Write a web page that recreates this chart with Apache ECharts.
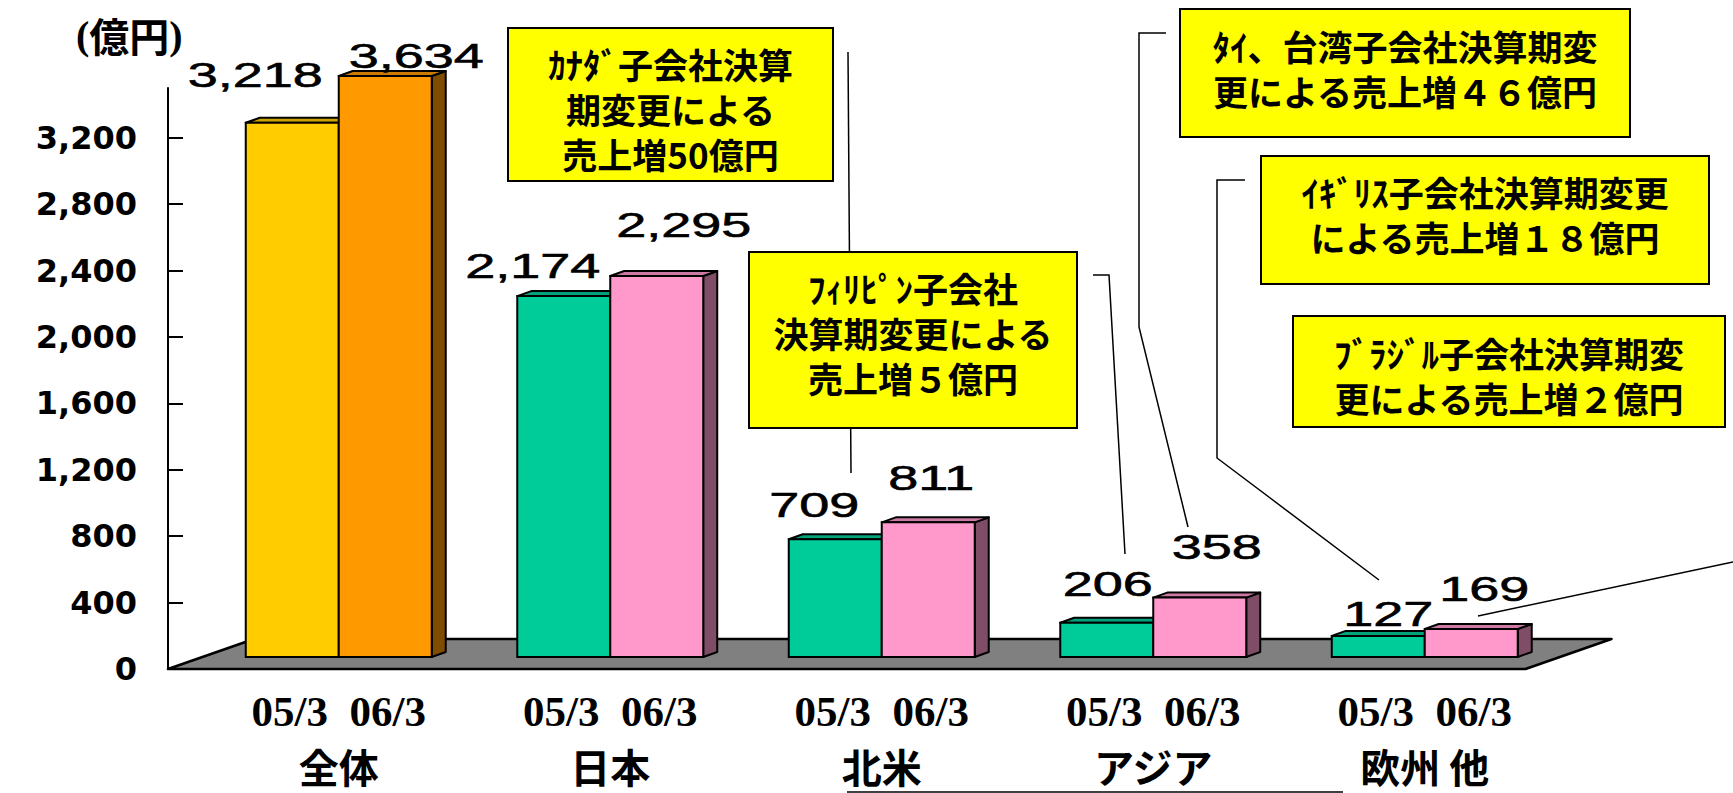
<!DOCTYPE html>
<html>
<head>
<meta charset="utf-8">
<script src="https://cdn.jsdelivr.net/npm/echarts@6/dist/echarts.min.js"></script>
<style>
html,body{margin:0;padding:0;background:#fff;}
#chart{width:1733px;height:793px;}
</style>
</head>
<body>
<div id="chart"></div>
<script>
// ---- data ----
const categories = ['全体', '日本', '北米', 'アジア', '欧州 他'];
const periods = ['05/3', '06/3'];
const sales0503 = [3218, 2174, 709, 206, 127];
const sales0603 = [3634, 2295, 811, 358, 169];
const yTicks = [0, 400, 800, 1200, 1600, 2000, 2400, 2800, 3200];
const yMax = 3500;
const unitLabel = ['(', '億円', ')'];
const notes = [
  'ｶﾅﾀﾞ子会社決算\n期変更による\n売上増50億円',
  'ﾌｨﾘﾋﾟﾝ子会社\n決算期変更による\n売上増５億円',
  'ﾀｲ、台湾子会社決算期変\n更による売上増４６億円',
  'ｲｷﾞﾘｽ子会社決算期変更\nによる売上増１８億円',
  'ﾌﾞﾗｼﾞﾙ子会社決算期変\n更による売上増２億円'
];

// ---- styles / layout ----
const front = [
  ['#FFCC00', '#00CC99', '#00CC99', '#00CC99', '#00CC99'],
  ['#FF9900', '#FF99CC', '#FF99CC', '#FF99CC', '#FF99CC']
];
const topC = [
  ['#CCA300', '#00A37A', '#00A37A', '#00A37A', '#00A37A'],
  ['#CC7A00', '#CC7AA3', '#CC7AA3', '#CC7AA3', '#CC7AA3']
];
const sideC = [
  ['#806600', '#00664D', '#00664D', '#00664D', '#00664D'],
  ['#7F4C00', '#804D66', '#804D66', '#804D66', '#804D66']
];
const FRONT_DX = 35, FRONT_DY = -12;   // bar front plane vs axis plane
const DEP_X = 14, DEP_Y = -5;          // bar depth
const FLOOR_DX = 86, FLOOR_DY = -30;   // floor depth
const BAR_FRAC = 0.3425;
// label placement nudges [dx from bar centre, gap above bar top]
const labelNudge = [
  [[-37, 35], [-31, 18], [-21, 22], [1, 26], [10, 9]],
  [[31, 8], [27, 39], [3, 32], [17, 38], [13, 27]]
];

function fmt(v) { return v.toLocaleString('en-US'); }

function barRenderer(s) {
  return function (params, api) {
    const i = api.value(0), v = api.value(1);
    const band = api.size([1, 0])[0];
    const c = api.coord([i, Math.min(v, yMax)]);
    const b = api.coord([i, 0]);
    const w = band * BAR_FRAC;
    const cx = c[0] + FRONT_DX;
    const x0 = s === 0 ? cx - w : cx;
    const x1 = x0 + w;
    const yT = c[1] + FRONT_DY;
    const yB = b[1] + FRONT_DY;
    const stroke = '#000';
    const nd = labelNudge[s][i];
    const children = [
      { type: 'polygon', shape: { points: [[x1, yB], [x1 + DEP_X, yB + DEP_Y], [x1 + DEP_X, yT + DEP_Y], [x1, yT]] },
        style: { fill: sideC[s][i], stroke, lineWidth: 2, lineJoin: 'round' } },
      { type: 'polygon', shape: { points: [[x0, yT], [x1, yT], [x1 + DEP_X, yT + DEP_Y], [x0 + DEP_X, yT + DEP_Y]] },
        style: { fill: topC[s][i], stroke, lineWidth: 2, lineJoin: 'round' } },
      { type: 'rect', shape: { x: x0, y: yT, width: w, height: yB - yT },
        style: { fill: front[s][i], stroke, lineWidth: 2 } },
      { type: 'text', x: (x0 + x1) / 2 + nd[0], y: yT - nd[1] - 13, scaleX: 1.5, z2: 100,
        style: { text: fmt(v), x: 0, y: 0, align: 'center', verticalAlign: 'middle',
          fontSize: 36, fontWeight: 'normal', fontFamily: '"Liberation Sans", Arial, sans-serif', fill: '#000',
          stroke: '#000', lineWidth: 0.6 } }
    ];
    return { type: 'group', children };
  };
}

function floorRenderer(params, api) {
  const cs = params.coordSys;
  const yb = cs.y + cs.height;
  return {
    type: 'polygon',
    shape: { points: [[cs.x, yb], [cs.x + cs.width, yb], [cs.x + cs.width + FLOOR_DX, yb + FLOOR_DY], [cs.x + FLOOR_DX, yb + FLOOR_DY]] },
    style: { fill: '#808080', stroke: '#000', lineWidth: 2.5, lineJoin: 'round' }
  };
}

const boxes = [
  { x: 508, y: 28, w: 325, h: 153, ty: 108 },
  { x: 749, y: 252, w: 328, h: 176, ty: 332 },
  { x: 1180, y: 9, w: 450, h: 128, ty: 68 },
  { x: 1261, y: 156, w: 448, h: 128, ty: 214 },
  { x: 1293, y: 316, w: 432, h: 111, ty: 375 }
];
const leaders = [
  [[848, 52], [851, 473]],
  [[1093, 275], [1109, 275], [1125, 554]],
  [[1166, 33], [1139, 33], [1139, 327], [1188, 527]],
  [[1245, 180], [1217, 180], [1217, 458], [1379, 580]],
  [[1478, 616], [1733, 562]],
  [[847, 792], [1343, 792]]
];

const graphic = [];
leaders.forEach(p => graphic.push({ type: 'polyline', shape: { points: p }, style: { stroke: '#000', lineWidth: 1.5, fill: null }, z: 1 }));
boxes.forEach((b, k) => {
  graphic.push({ type: 'rect', shape: { x: b.x, y: b.y, width: b.w, height: b.h },
    style: { fill: '#FFFF00', stroke: '#000', lineWidth: 2 }, z: 2 });
  graphic.push({ type: 'text', x: b.x + b.w / 2, y: b.ty, z: 3,
    style: { text: notes[k], align: 'center', verticalAlign: 'middle', lineHeight: 45,
      fontSize: 35, fontWeight: 'bold', fontFamily: '"Noto Sans CJK JP", sans-serif', fill: '#000' } });
});
graphic.push({ type: 'text', x: 76, y: 35, z: 3,
  style: { text: `{s|${unitLabel[0]}}{k|${unitLabel[1]}}{s|${unitLabel[2]}}`, align: 'left', verticalAlign: 'middle',
    rich: {
      s: { fontSize: 40, fontWeight: 'bold', fontFamily: '"Liberation Serif", serif', fill: '#000' },
      k: { fontSize: 40, fontWeight: 'bold', fontFamily: '"Noto Sans CJK JP", sans-serif', fill: '#000' }
    } } });

const chart = echarts.init(document.getElementById('chart'), null, { renderer: 'svg' });
chart.setOption({
  backgroundColor: '#fff',
  animation: false,
  grid: { left: 168, top: 88, width: 1357.5, height: 581, outerBoundsMode: 'none' },
  xAxis: {
    type: 'category', data: categories,
    axisLine: { show: false }, axisTick: { show: false }, splitLine: { show: false },
    axisLabel: {
      interval: 0, margin: 12, padding: [0, 0, 0, 70],
      formatter: (val) => `{p|${periods[0]}  ${periods[1]}}\n{c|${val}}`,
      rich: {
        p: { fontSize: 43, fontWeight: 'bold', fontFamily: '"Liberation Serif", "Times New Roman", serif', color: '#000', lineHeight: 60 },
        c: { fontSize: 40, fontWeight: 'bold', fontFamily: '"Noto Sans CJK JP", sans-serif', color: '#000', lineHeight: 50 }
      }
    }
  },
  yAxis: {
    type: 'value', min: 0, max: yMax,
    splitLine: { show: false },
    axisLine: { show: true, lineStyle: { color: '#000', width: 2 } },
    axisTick: { show: true, inside: true, length: 15, customValues: yTicks, lineStyle: { color: '#000', width: 2 } },
    axisLabel: {
      customValues: yTicks, margin: 31, formatter: (v) => fmt(v),
      fontSize: 32, fontWeight: 'bold', fontFamily: '"DejaVu Sans", sans-serif', color: '#000'
    }
  },
  graphic: graphic,
  series: [
    { type: 'custom', name: 'floor', renderItem: floorRenderer, data: [[0, 0]], clip: false, z: 1, silent: true },
    { type: 'custom', name: periods[0], renderItem: barRenderer(0), data: sales0503.map((v, i) => [i, v]), clip: false, z: 2 },
    { type: 'custom', name: periods[1], renderItem: barRenderer(1), data: sales0603.map((v, i) => [i, v]), clip: false, z: 2 }
  ]
});
</script>
</body>
</html>
